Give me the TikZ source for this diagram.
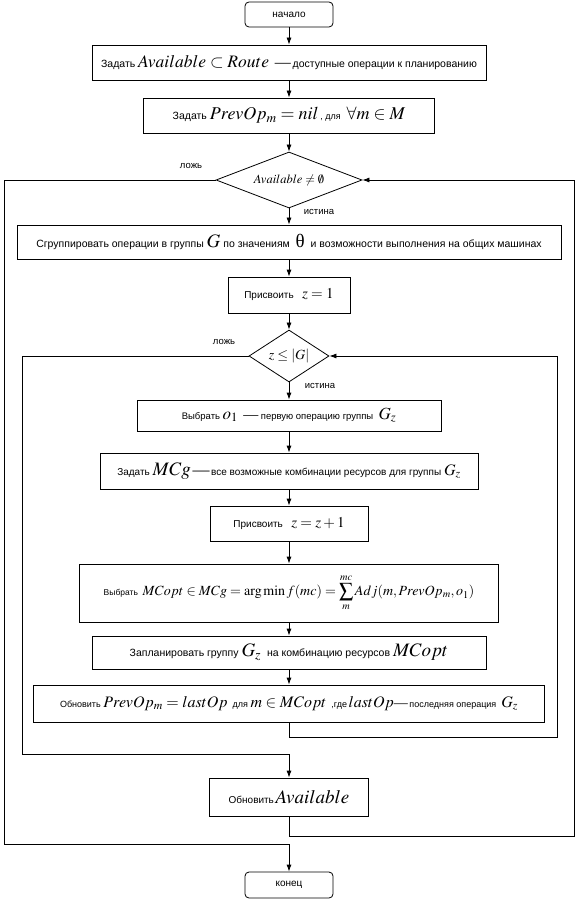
\documentclass[tikz,border=0pt]{standalone}
\usepackage{mathptmx}
\usepackage[no-math]{fontspec}
\setmainfont{Liberation Sans}
\newfontfamily\tms{Liberation Serif}
\usetikzlibrary{shapes.geometric,arrows.meta}
\newcommand\MM[2]{{\fontsize{#1}{#1}\selectfont$#2$}}
\newcommand\fs[1]{\fontsize{#1}{#1}\selectfont}
\tikzset{
  box/.style={draw, line width=0.8pt, inner sep=0pt, font=\fs{10}, align=center},
  term/.style={box, rounded corners=4pt},
  dec/.style={draw, diamond, line width=0.8pt, inner sep=0pt},
  flow/.style={draw, line width=0.8pt, -{Latex[length=7pt,width=5pt]}},
  lbl/.style={font=\fs{9.5}, inner sep=1pt}
}
\begin{document}
\begin{tikzpicture}[x=1pt,y=-1pt]
\useasboundingbox (0,0) rectangle (580,901);
% nodes
\node[term, minimum width=88pt, minimum height=25pt] (start) at (289,14.5) {начало};
\node[box, font=\fs{10.5}, minimum width=394pt, minimum height=35pt] (b1) at (289,62.5)
  {Задать \MM{17.5}{Available \subset Route}\ \ {\fs{16}\tms —}\,доступные операции к планированию};
\node[box, font=\fs{10.5}, minimum width=291pt, minimum height=35pt] (b2) at (289,115.5)
  {Задать \MM{18}{PrevOp_m = nil}\,{\fs{9}, для} \ \MM{18}{\forall m \in M}};
\node[dec, shape aspect=2.6, minimum width=146pt, minimum height=56pt] (d1) at (289,180)
  {\MM{12.5}{Available \neq \emptyset}};
\node[box, font=\fs{10.5}, minimum width=544pt, minimum height=34pt] (b3) at (289,242)
  {Сгруппировать операции в группы \MM{19}{G} по значениям \ {\tms\fs{19}θ} \ и возможности выполнения на общих машинах};
\node[box, minimum width=122pt, minimum height=36pt] (b4) at (289,295)
  {Присвоить \ \ \MM{15}{z = 1}};
\node[dec, shape aspect=1.54, minimum width=80pt, minimum height=52pt] (d2) at (289,356)
  {\MM{14}{z \leq |G|}};
\node[box, font=\fs{9.5}, minimum width=304pt, minimum height=31pt] (b5) at (289,415.5)
  {Выбрать \MM{17}{o_1} \ {\fs{15}\tms —} первую операцию группы \ \MM{17}{G_z}};
\node[box, minimum width=378pt, minimum height=36pt] (b6) at (289,471)
  {Задать \MM{19}{MCg}\,{\fs{17}\tms —}\,все возможные комбинации ресурсов для группы \MM{16}{G_z}};
\node[box, minimum width=158pt, minimum height=35pt] (b7) at (289,523.5)
  {Присвоить \ \ \MM{15}{z = z + 1}};
\node[box, font=\fs{8.5}, minimum width=419pt, minimum height=58pt] (b8) at (289,593)
  {Выбрать \ \MM{14}{\displaystyle MCopt \in MCg = \arg\min f(mc) = \sum_{m}^{mc} Adj(m, PrevOp_m, o_1)}};
\node[box, font=\fs{10.5}, minimum width=394pt, minimum height=33pt] (b9) at (289,652.5)
  {Запланировать группу \MM{19}{G_z} \ на комбинацию ресурсов \MM{19}{MCopt}};
\node[box, font=\fs{9}, minimum width=511pt, minimum height=37pt] (b10) at (289,703.5)
  {Обновить \MM{16}{PrevOp_m = lastOp} \ для \MM{16}{m \in MCopt} \ ,где\,\MM{16}{lastOp}{\fs{14}\tms —}\,последняя операция \ \MM{16}{G_z}};
\node[box, minimum width=159pt, minimum height=38pt] (b11) at (289,797)
  {Обновить\,\MM{19}{Available}};
\node[term, minimum width=88pt, minimum height=26pt] (end) at (289,885) {конец};
% labels
\node[lbl] (l1) at (191,166) {ложь};
\node[lbl] (t1) at (319,212) {истина};
\node[lbl] (l2) at (224,342) {ложь};
\node[lbl] (t2) at (320,386) {истина};
% helper coordinates
\coordinate (ir) at (557,737);
\coordinate (il) at (22,754);
\coordinate (or) at (574,836);
\coordinate (ol) at (4,844);
% main flow
\path[flow] (start) -- (b1);
\path[flow] (b1) -- (b2);
\path[flow] (b2) -- (d1);
\path[flow] (d1) -- (b3);
\path[flow] (b3) -- (b4);
\path[flow] (b4) -- (d2);
\path[flow] (d2) -- (b5);
\path[flow] (b5) -- (b6);
\path[flow] (b6) -- (b7);
\path[flow] (b7) -- (b8);
\path[flow] (b8) -- (b9);
\path[flow] (b9) -- (b10);
% loops
\path[flow] (b10.south) |- (ir) |- (d2.east);
\path[flow] (d2.west) -| (il) -| (b11.north);
\path[flow] (b11.south) |- (or) |- (d1.east);
\path[flow] (d1.west) -| (ol) -| (end.north);
\end{tikzpicture}
\end{document}
